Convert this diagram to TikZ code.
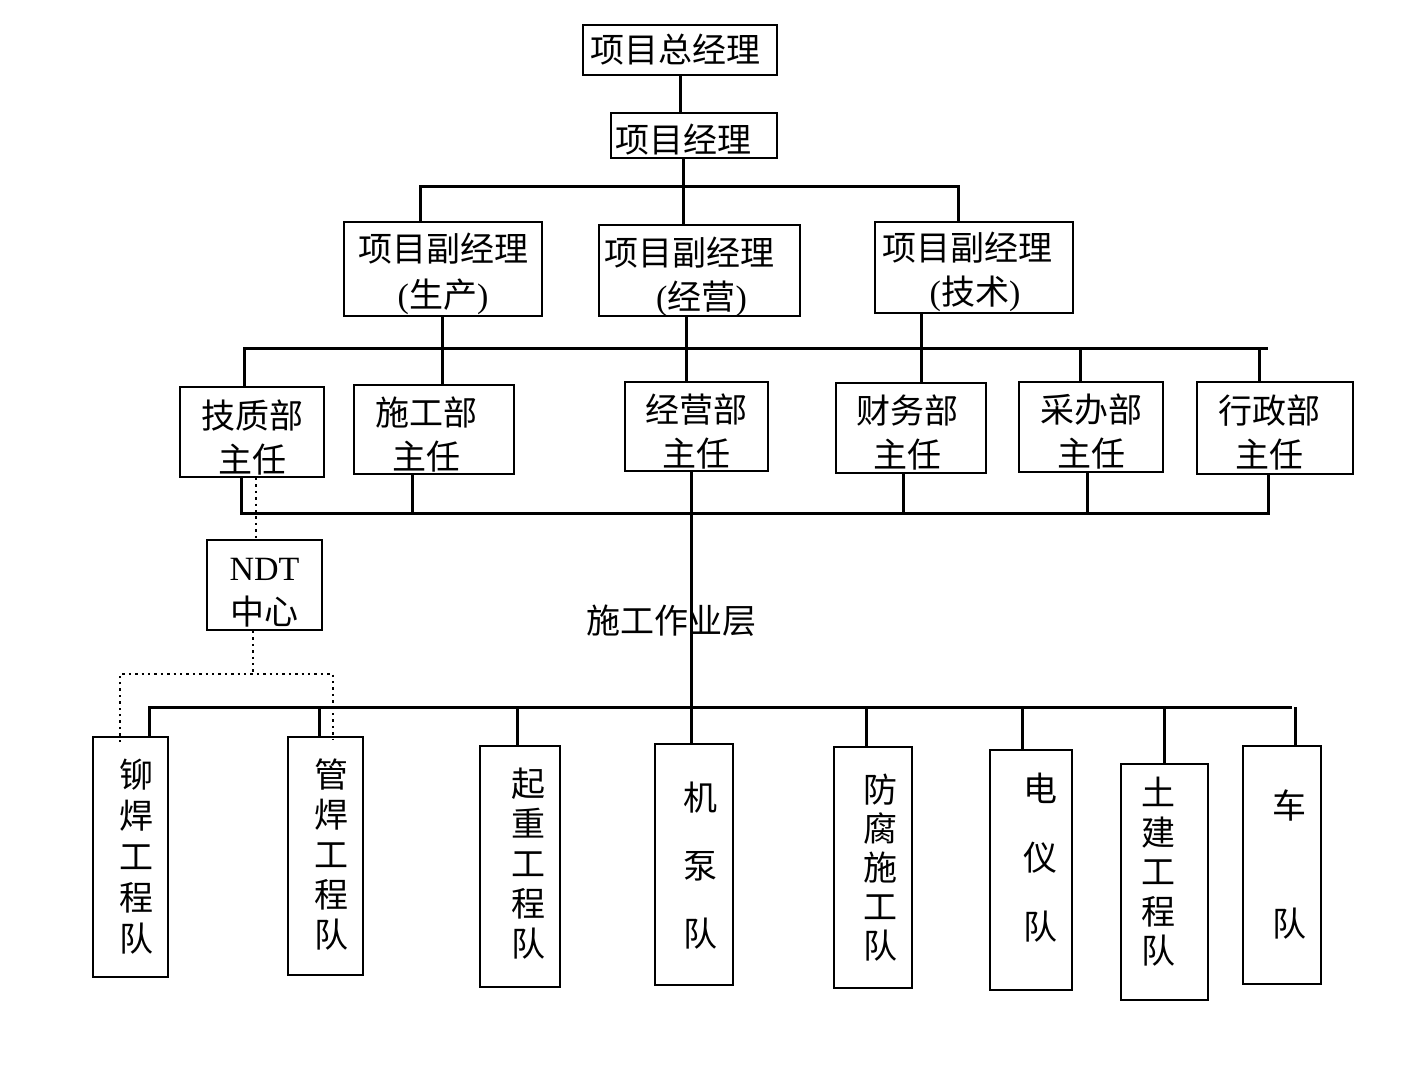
\documentclass[tikz,border=0pt]{standalone}
\usepackage{fontspec}
\setmainfont{Liberation Serif}
\newfontfamily\cjk{Noto Sans CJK SC}
\newcommand\lpar{{\rmfamily(}}
\newcommand\rpar{{\rmfamily)}}
\begin{document}
\begin{tikzpicture}[x=0.5pt,y=-0.5pt,
  box/.style={draw, line width=1pt, inner sep=0pt},
  txt/.style={inner sep=0pt, align=center, font=\cjk\fontsize{17}{#1}\selectfont},
  txt/.default=22pt,
  conn/.style={line width=1.5pt},
  dotc/.style={line width=1.2pt, dotted}]
\useasboundingbox (0,0) rectangle (1416,1086);
\fill[white] (0,0) rectangle (1416,1086);

% level 1-2
\node[box, minimum width=97pt, minimum height=25pt] (gm) at (680,50) {};
\node[txt] (gmt) at ([shift={(-5,0)}]gm.center) {项目总经理};
\node[box, minimum width=83pt, minimum height=22.5pt] (pm) at (694,135.5) {};
\node[txt] (pmt) at ([shift={(-11,4)}]pm.center) {项目经理};

% deputies
\node[box, minimum width=99pt, minimum height=47pt] (d1) at (443,269) {};
\node[txt=23pt] (d1t) at ([shift={(0,5)}]d1.center) {项目副经理\\\lpar 生产\rpar};
\node[box, minimum width=100.5pt, minimum height=45.5pt] (d2) at (699.5,270.5) {};
\node[txt] (d2t) at ([shift={(-10,6)}]d2.center) {项目副经理\\\hspace*{12pt}\lpar 经营\rpar};
\node[box, minimum width=99pt, minimum height=45.5pt] (d3) at (974,267.5) {};
\node[txt] (d3t) at ([shift={(-7,4)}]d3.center) {项目副经理\\\hspace*{8pt}\lpar 技术\rpar};

% departments
\node[box, minimum width=72pt, minimum height=45pt] (r1) at (252,432) {};
\node[txt] (r1t) at ([shift={(0,6)}]r1.center) {技质部\\主任};
\node[box, minimum width=80pt, minimum height=44.5pt] (r2) at (434,429.5) {};
\node[txt] (r2t) at ([shift={(-8,5)}]r2.center) {施工部\\主任};
\node[box, minimum width=71.5pt, minimum height=44.5pt] (r3) at (696.5,426.5) {};
\node[txt] (r3t) at ([shift={(0,5)}]r3.center) {经营部\\主任};
\node[box, minimum width=75pt, minimum height=45pt] (r4) at (911,428) {};
\node[txt] (r4t) at ([shift={(-4,5)}]r4.center) {财务部\\主任};
\node[box, minimum width=72pt, minimum height=45pt] (r5) at (1091,427) {};
\node[txt] (r5t) at ([shift={(0,5)}]r5.center) {采办部\\主任};
\node[box, minimum width=78pt, minimum height=46pt] (r6) at (1275,428) {};
\node[txt] (r6t) at ([shift={(-6,5)}]r6.center) {行政部\\主任};

% NDT
\node[box, minimum width=57.5pt, minimum height=45pt] (ndt) at (264.5,585) {};
\node[txt] (ndtt) at ([shift={(0,8)}]ndt.center) {{\rmfamily NDT}\\中心};

% label
\node[txt] (layer) at (671,621) {施工作业层};

% teams
\node[box, minimum width=37.5pt, minimum height=120pt] (b1) at (130.5,857) {};
\node[txt=20.5pt] (b1t) at ([shift={(6,0)}]b1.center) {铆\\焊\\工\\程\\队};
\node[box, minimum width=37.5pt, minimum height=119pt] (b2) at (325.5,856) {};
\node[txt=20pt] (b2t) at ([shift={(6,-1)}]b2.center) {管\\焊\\工\\程\\队};
\node[box, minimum width=40pt, minimum height=120.5pt] (b3) at (520,866.5) {};
\node[txt=20pt] (b3t) at ([shift={(8,-3)}]b3.center) {起\\重\\工\\程\\队};
\node[box, minimum width=39pt, minimum height=120.5pt] (b4) at (694,864.5) {};
\node[txt=34pt] (b4t) at ([shift={(6,1)}]b4.center) {机\\泵\\队};
\node[box, minimum width=39pt, minimum height=120.5pt] (b5) at (873,867.5) {};
\node[txt=19.5pt] (b5t) at ([shift={(7,0)}]b5.center) {防\\腐\\施\\工\\队};
\node[box, minimum width=41pt, minimum height=120pt] (b6) at (1031,870) {};
\node[txt=34.5pt] (b6t) at ([shift={(9,-12)}]b6.center) {电\\仪\\队};
\node[box, minimum width=43.5pt, minimum height=118pt] (b7) at (1164.5,882) {};
\node[txt=19.75pt] (b7t) at ([shift={(-6,-10)}]b7.center) {土\\建\\工\\程\\队};
\node[box, minimum width=39pt, minimum height=119pt] (b8) at (1282,865) {};
\node[txt=59pt] (b8t) at ([shift={(7,0)}]b8.center) {车\\队};

% bar coordinates
\coordinate (a1L) at (420,186);
\coordinate (a1R) at (958,186);
\coordinate (a1M) at (683,186);
\coordinate (a2L) at (244,348);
\coordinate (a2R) at (1268,348);
\coordinate (a3L) at (241,513);
\coordinate (a3R) at (1268,513);
\coordinate (a4L) at (149,707);
\coordinate (a4R) at (1292,707);

% connectors top
\draw[conn] (gm.south) -- (gm.south |- pm.north);
\draw[conn] (a1M |- pm.south) -- (a1M |- d2.north);
\draw[conn] (a1L |- d1.north) -- (a1L) -- (a1R) -- (a1R |- d3.north);

% bar 2
\draw[conn] (a2L |- r1.north) -- (a2L) -- (a2R);
\draw[conn] (442,0 |- d1.south) -- (442,0 |- r2.north);
\draw[conn] (686,0 |- d2.south) -- (686,0 |- r3.north);
\draw[conn] (921,0 |- d3.south) -- (921,0 |- r4.north);
\draw[conn] (1080,0 |- a2R) -- (1080,0 |- r5.north);
\draw[conn] (1259,0 |- a2R) -- (1259,0 |- r6.north);

% bar 3
\draw[conn] (a3L |- r1.south) -- (a3L) -- (a3R) -- (a3R |- r6.south);
\draw[conn] (412,0 |- r2.south) -- (412,0 |- a3L);
\draw[conn] (903,0 |- r4.south) -- (903,0 |- a3L);
\draw[conn] (1087,0 |- r5.south) -- (1087,0 |- a3L);
\draw[conn] (691,0 |- r3.south) -- (691,0 |- b4.north);

% bar 4
\draw[conn] (a4L |- b1.north) -- (a4L) -- (a4R);
\draw[conn] (319,0 |- a4L) -- (319,0 |- b2.north);
\draw[conn] (517,0 |- a4L) -- (517,0 |- b3.north);
\draw[conn] (866,0 |- a4L) -- (866,0 |- b5.north);
\draw[conn] (1022,0 |- a4L) -- (1022,0 |- b6.north);
\draw[conn] (1164,0 |- a4L) -- (1164,0 |- b7.north);
\draw[conn] (1295,0 |- a4L) -- (1295,0 |- b8.north);

% dotted NDT links
\coordinate (n1) at (253,674);
\draw[dotc] (256,0 |- r1.south) -- (256,0 |- ndt.north);
\draw[dotc] (n1 |- ndt.south) -- (n1);
\draw[dotc] (120,742) -- (120,674) -- (333,674) -- (333,740);
\end{tikzpicture}
\end{document}
